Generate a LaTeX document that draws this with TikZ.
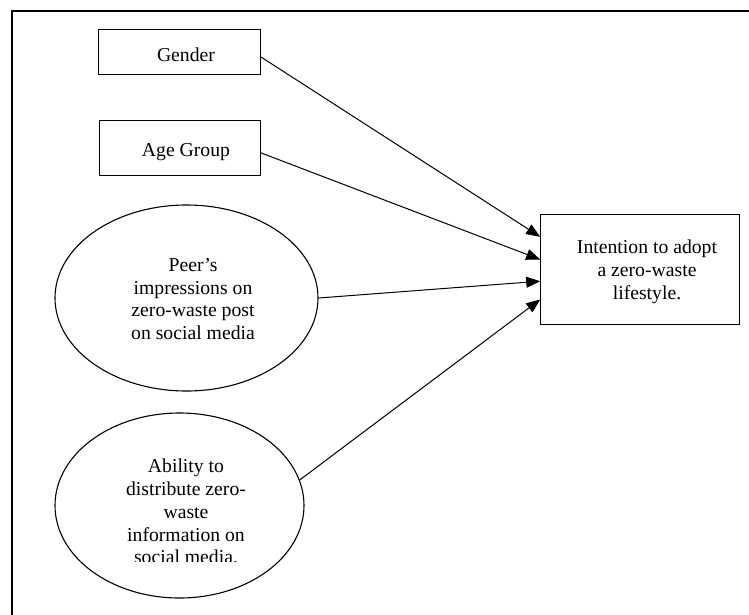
\documentclass[tikz,border=0pt]{standalone}
\usepackage{fontspec}
\setmainfont{Liberation Serif}
\usetikzlibrary{arrows.meta,shapes.geometric,calc}
\begin{document}
\begin{tikzpicture}[x=1pt,y=-1pt,
  box/.style={draw,line width=1pt,inner sep=0pt,rectangle},
  oval/.style={draw,line width=1.1pt,ellipse,inner sep=0pt},
  txt/.style={inner sep=0pt,align=center,font=\fontsize{19.7}{22.7}\selectfont},
  conn/.style={line width=1pt,-{Triangle[length=14pt,width=11pt]}}]
\useasboundingbox (0,0) rectangle (749,614);
\fill[white] (0,0) rectangle (749,614);
\draw[line width=2.5pt,line join=miter] (12,620) -- (12,11) -- (755,11);

\node[box,minimum width=161.3pt,minimum height=45.4pt] (gen) at (179.35,52) {};
\node[txt] (gentxt) at (186,54.5) {Gender};
\node[box,minimum width=161pt,minimum height=54.3pt] (age) at (179.5,147.85) {};
\node[txt,anchor=base] (agetxt) at (186,156.7) {Age Group};

\node[oval,minimum width=263pt,minimum height=186pt] (peer) at (186.5,298) {};
\node[txt] (peertxt) at (193,299) {Peer’s\\impressions on\\zero-waste post\\on social media};

\node[oval,minimum width=249pt,minimum height=185pt] (abil) at (179.5,505.5) {};
\begin{scope}
\clip (0,0) rectangle (749,561.5);
\node[txt] (abiltxt) at (186,511.6) {Ability to\\distribute zero-\\waste\\information on\\social media.};
\end{scope}

\node[box,minimum width=198.3pt,minimum height=110pt] (int) at (639.85,269) {};
\node[txt] (inttxt) at (647,271.7) {Intention to adopt\\a zero-waste\\lifestyle.};

\coordinate (t1) at ($(int.north west)+(0,23.3)$);
\coordinate (t2) at ($(int.north west)+(0,46)$);
\coordinate (t3) at ($(int.north west)+(0,67.7)$);
\coordinate (t4) at ($(int.north west)+(0,86)$);

\draw[conn] ($(gen.east)+(0,4.7)$) -- (t1);
\draw[conn] ($(age.east)+(0,4.85)$) -- (t2);
\draw[conn] (peer.east) -- (t3);
\draw[conn] (abil.12.5) -- (t4);
\end{tikzpicture}
\end{document}
